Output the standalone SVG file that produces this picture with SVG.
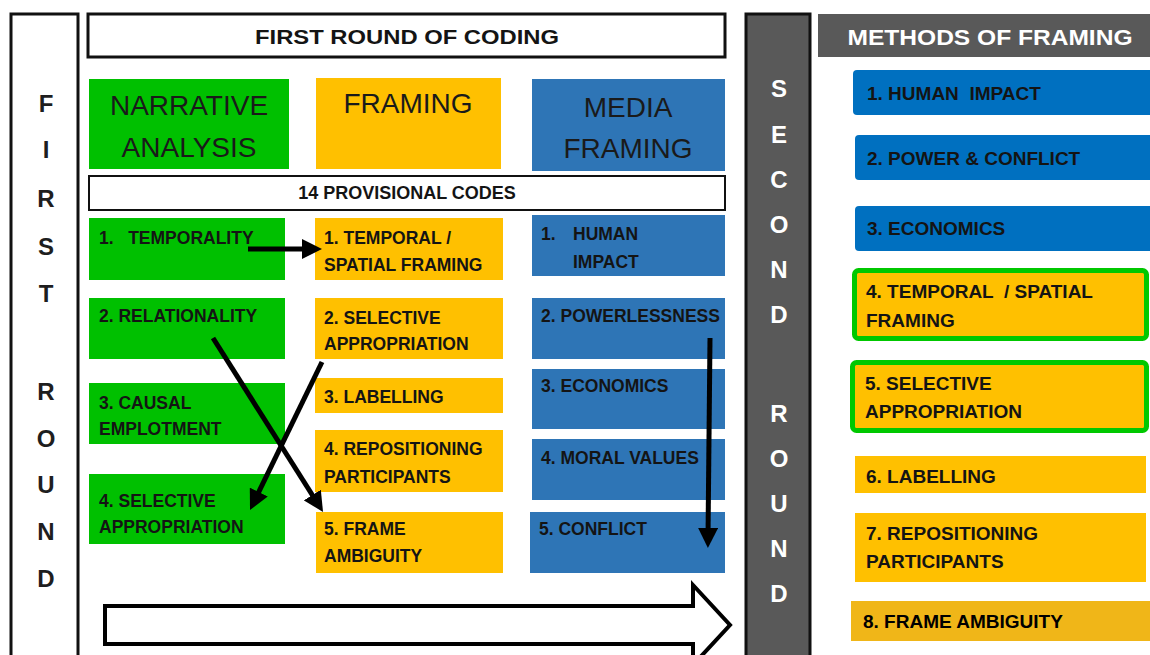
<svg xmlns="http://www.w3.org/2000/svg" width="1150" height="655" viewBox="0 0 1150 655">
<style>
text{font-family:"Liberation Sans",Arial,sans-serif;}
.b{font-weight:bold;font-size:17.5px;fill:#141414;}
.rt{font-weight:bold;font-size:19px;fill:#141414;}
.big{font-size:28px;fill:#1a1a1a;text-anchor:middle;}
.lt{font-weight:bold;font-size:24px;fill:#1e1e1e;text-anchor:middle;}
.wt{font-weight:bold;font-size:24px;fill:#ffffff;text-anchor:middle;}
.g{fill:#00c000;}
.y{fill:#ffc000;}
.m{fill:#2e75b6;}
.rb{fill:#0070c0;}
.conn{stroke:#000;stroke-width:5;fill:none;marker-end:url(#ah);}
</style>
<defs>
<marker id="ah" viewBox="0 0 20 20" refX="10" refY="10" markerWidth="20" markerHeight="20" markerUnits="userSpaceOnUse" orient="auto">
<path d="M0,0 L20,10 L0,20 Z" fill="#000"/>
</marker>
</defs>
<rect width="1150" height="655" fill="#fff"/>

<g id="first-round">
<rect x="11" y="14" width="67" height="700" fill="#fff" stroke="#111" stroke-width="3"/>
<text class="lt" x="46" y="112">F</text>
<text class="lt" x="46" y="158">I</text>
<text class="lt" x="46" y="207">R</text>
<text class="lt" x="46" y="255">S</text>
<text class="lt" x="46" y="302">T</text>
<text class="lt" x="46" y="400">R</text>
<text class="lt" x="46" y="447">O</text>
<text class="lt" x="46" y="493">U</text>
<text class="lt" x="46" y="540">N</text>
<text class="lt" x="46" y="587">D</text>
</g>

<g id="title">
<rect x="88" y="14" width="637" height="43" fill="#fff" stroke="#111" stroke-width="3"/>
<text x="407" y="44" font-weight="bold" font-size="21" fill="#141414" text-anchor="middle" textLength="304" lengthAdjust="spacingAndGlyphs">FIRST ROUND OF CODING</text>
</g>

<g id="h-narrative">
<rect class="g" x="89" y="79" width="200" height="90"/>
<text class="big" x="189" y="115">NARRATIVE</text>
<text class="big" x="189" y="157">ANALYSIS</text>
</g>
<g id="h-framing">
<rect class="y" x="316" y="78" width="185" height="91"/>
<text class="big" x="408" y="113">FRAMING</text>
</g>
<g id="h-media">
<rect class="m" x="532" y="79" width="193" height="92"/>
<text class="big" x="628" y="117">MEDIA</text>
<text class="big" x="628" y="158">FRAMING</text>
</g>

<g id="provisional">
<rect x="89" y="176" width="636" height="34" fill="#fff" stroke="#111" stroke-width="2"/>
<text x="407" y="199" font-weight="bold" font-size="18" fill="#141414" text-anchor="middle">14 PROVISIONAL CODES</text>
</g>

<g id="n1"><rect class="g" x="89" y="218" width="196" height="62"/><text class="b" x="99" y="244" xml:space="preserve">1.   TEMPORALITY</text></g>
<g id="n2"><rect class="g" x="89" y="298" width="196" height="61"/><text class="b" x="99" y="322">2. RELATIONALITY</text></g>
<g id="n3"><rect class="g" x="89" y="383" width="196" height="61"/><text class="b" x="99" y="409">3. CAUSAL</text><text class="b" x="99" y="435">EMPLOTMENT</text></g>
<g id="n4"><rect class="g" x="89" y="474" width="196" height="70"/><text class="b" x="99" y="507">4. SELECTIVE</text><text class="b" x="99" y="533">APPROPRIATION</text></g>

<g id="f1"><rect class="y" x="315" y="218" width="188" height="62"/><text class="b" x="324" y="244">1. TEMPORAL /</text><text class="b" x="324" y="271">SPATIAL FRAMING</text></g>
<g id="f2"><rect class="y" x="315" y="298" width="188" height="61"/><text class="b" x="324" y="324">2. SELECTIVE</text><text class="b" x="324" y="350">APPROPRIATION</text></g>
<g id="f3"><rect class="y" x="315" y="378" width="188" height="35"/><text class="b" x="324" y="403">3. LABELLING</text></g>
<g id="f4"><rect class="y" x="315" y="430" width="188" height="62"/><text class="b" x="324" y="455">4. REPOSITIONING</text><text class="b" x="324" y="483">PARTICIPANTS</text></g>
<g id="f5"><rect class="y" x="316" y="512" width="187" height="61"/><text class="b" x="324" y="535">5. FRAME</text><text class="b" x="324" y="562">AMBIGUITY</text></g>

<g id="m1"><rect class="m" x="532" y="215" width="193" height="61"/><text class="b" x="541" y="240">1.</text><text class="b" x="573" y="240">HUMAN</text><text class="b" x="573" y="268">IMPACT</text></g>
<g id="m2"><rect class="m" x="532" y="298" width="193" height="61"/><text class="b" x="541" y="322">2. POWERLESSNESS</text></g>
<g id="m3"><rect class="m" x="532" y="369" width="193" height="60"/><text class="b" x="541" y="392">3. ECONOMICS</text></g>
<g id="m4"><rect class="m" x="532" y="439" width="193" height="61"/><text class="b" x="541" y="464">4. MORAL VALUES</text></g>
<g id="m5"><rect class="m" x="530" y="512" width="195" height="61"/><text class="b" x="539" y="535">5. CONFLICT</text></g>

<g id="second-round">
<rect x="746" y="14" width="64" height="700" fill="#595959" stroke="#111" stroke-width="3"/>
<text class="wt" x="779" y="97">S</text>
<text class="wt" x="779" y="143">E</text>
<text class="wt" x="779" y="188">C</text>
<text class="wt" x="779" y="233">O</text>
<text class="wt" x="779" y="278">N</text>
<text class="wt" x="779" y="323">D</text>
<text class="wt" x="779" y="422">R</text>
<text class="wt" x="779" y="467">O</text>
<text class="wt" x="779" y="512">U</text>
<text class="wt" x="779" y="557">N</text>
<text class="wt" x="779" y="602">D</text>
</g>

<g id="methods">
<rect x="818" y="14" width="332" height="43" fill="#595959"/>
<text x="990" y="45" font-weight="bold" font-size="22" fill="#fff" text-anchor="middle" textLength="285" lengthAdjust="spacingAndGlyphs">METHODS OF FRAMING</text>
</g>

<g id="r1"><rect class="rb" x="853" y="70" width="302" height="45" rx="4"/><text class="rt" x="867" y="100" xml:space="preserve">1. HUMAN  IMPACT</text></g>
<g id="r2"><rect class="rb" x="855" y="135" width="300" height="45" rx="4"/><text class="rt" x="867" y="165">2. POWER &amp; CONFLICT</text></g>
<g id="r3"><rect class="rb" x="855" y="206" width="300" height="45" rx="4"/><text class="rt" x="867" y="235">3. ECONOMICS</text></g>
<g id="r4"><rect class="y" x="854.5" y="270.5" width="292" height="68" rx="4" stroke="#00c800" stroke-width="5"/><text class="rt" x="866" y="298" xml:space="preserve">4. TEMPORAL  / SPATIAL</text><text class="rt" x="866" y="327">FRAMING</text></g>
<g id="r5"><rect class="y" x="852.5" y="362.5" width="294" height="68" rx="4" stroke="#00c800" stroke-width="5"/><text class="rt" x="865" y="390">5. SELECTIVE</text><text class="rt" x="865" y="418">APPROPRIATION</text></g>
<g id="r6"><rect class="y" x="855" y="456" width="291" height="37"/><text class="rt" x="866" y="483">6. LABELLING</text></g>
<g id="r7"><rect class="y" x="855" y="513" width="291" height="69"/><text class="rt" x="866" y="540">7. REPOSITIONING</text><text class="rt" x="866" y="568">PARTICIPANTS</text></g>
<g id="r8"><rect x="851" y="601" width="299" height="40" fill="#f0b618"/><text class="rt" x="863" y="628" style="fill:#000">8. FRAME AMBIGUITY</text></g>

<g id="connectors">
<line class="conn" x1="248" y1="249" x2="312" y2="249"/>
<line class="conn" x1="213" y1="338" x2="317.7" y2="503.5"/>
<line class="conn" x1="322" y1="362" x2="254.4" y2="501"/>
<line class="conn" x1="710" y1="338" x2="708" y2="538"/>
<polygon points="105,606 693,606 693,585 730,625 693,665 693,644 105,644" fill="#fff" stroke="#000" stroke-width="4" stroke-linejoin="miter"/>
</g>
</svg>
